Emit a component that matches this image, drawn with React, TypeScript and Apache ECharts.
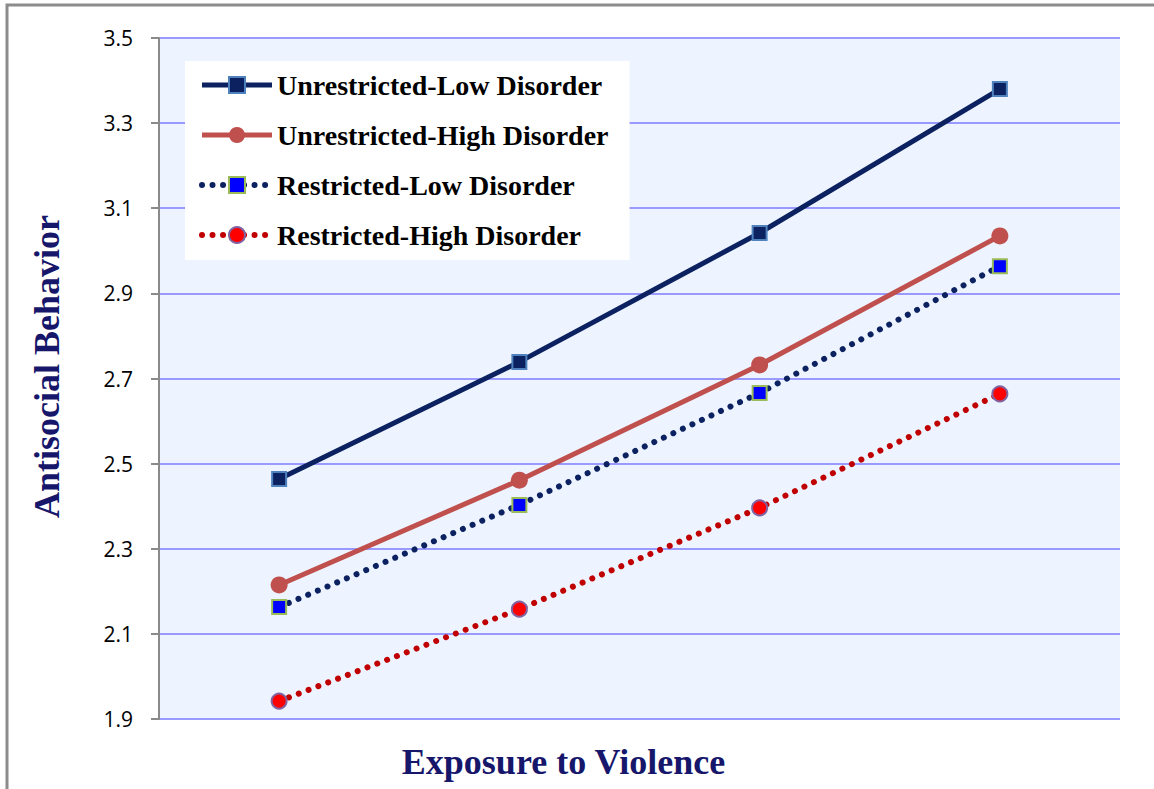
import React, { useEffect, useRef } from "react";
import * as echarts from "echarts";

// Exposure levels along the x axis (labels are not shown on the axis)
const exposureLevels = ["1", "2", "3", "4"];

const seriesNames = [
  "Unrestricted-Low Disorder",
  "Unrestricted-High Disorder",
  "Restricted-Low Disorder",
  "Restricted-High Disorder",
];

const unrestrictedLow = [2.464, 2.739, 3.042, 3.38];
const unrestrictedHigh = [2.215, 2.461, 2.732, 3.035];
const restrictedLow = [2.163, 2.403, 2.666, 2.964];
const restrictedHigh = [1.942, 2.158, 2.396, 2.664];

const yMin = 1.9;
const yMax = 3.5;
const yStep = 0.2;

const NAVY = "#0b2160";
const BRICK = "#c0504d";
const DARK_RED = "#c00000";
const TITLE_COLOR = "#16166b";
const SERIF = "'Liberation Serif', 'DejaVu Serif', serif";
const DOTTED = [0.01, 10.5];

export default function App() {
  const ref = useRef<HTMLDivElement>(null);

  useEffect(() => {
    if (!ref.current) return;
    const chart = echarts.init(ref.current, null, { renderer: "svg" });

    chart.setOption({
      animation: false,
      backgroundColor: "#ffffff",
      graphic: [
        {
          type: "rect",
          z: -10,
          silent: true,
          shape: { x: 7, y: 5, width: 1170, height: 820 },
          style: { fill: "none", stroke: "#8c8c8c", lineWidth: 3 },
        },
      ],
      grid: {
        left: 159,
        right: 34,
        top: 38,
        bottom: 70,
        outerBoundsMode: "none",
        containLabel: false,
        show: true,
        backgroundColor: "#edf4ff",
        borderWidth: 0,
      },
      legend: {
        orient: "vertical",
        left: 185,
        top: 61,
        backgroundColor: "#ffffff",
        padding: [10, 21, 11, 14],
        itemWidth: 70,
        itemHeight: 20,
        itemGap: 22,
        data: [
          { name: seriesNames[0], lineStyle: { width: 5 } },
          { name: seriesNames[1], lineStyle: { width: 5 } },
          { name: seriesNames[2], lineStyle: { width: 6, type: DOTTED, cap: "round" } },
          { name: seriesNames[3], lineStyle: { width: 6, type: DOTTED, cap: "round" } },
        ],
        textStyle: {
          fontFamily: SERIF,
          fontWeight: "bold",
          fontSize: 28,
          lineHeight: 24,
          color: "#000000",
        },
      },
      xAxis: {
        type: "category",
        data: exposureLevels,
        boundaryGap: true,
        axisLine: { show: false },
        axisTick: { show: false },
        axisLabel: { show: false },
        splitLine: { show: false },
        name: "Exposure to Violence",
        nameLocation: "middle",
        nameGap: 25,
        nameTextStyle: {
          fontFamily: SERIF,
          fontWeight: "bold",
          fontSize: 36,
          color: TITLE_COLOR,
          padding: [0, 152, 0, 0],
        },
      },
      yAxis: {
        type: "value",
        min: yMin,
        max: yMax,
        interval: yStep,
        axisLine: { show: true, lineStyle: { color: "#8a8a8a", width: 2 } },
        axisTick: {
          show: true,
          inside: false,
          length: 8,
          lineStyle: { color: "#8a8a8a", width: 2 },
        },
        axisLabel: {
          margin: 26,
          fontFamily: "'Open Sans', 'Noto Sans', sans-serif",
          fontSize: 21,
          color: "#000000",
          formatter: (v: number) => v.toFixed(1),
        },
        splitLine: { show: true, lineStyle: { color: "#9999ff", width: 2 } },
        name: "Antisocial Behavior",
        nameLocation: "middle",
        nameGap: 94,
        nameTextStyle: {
          fontFamily: SERIF,
          fontWeight: "bold",
          fontSize: 36,
          color: TITLE_COLOR,
          padding: [0, 0, 0, 24],
        },
      },
      series: [
        {
          name: seriesNames[0],
          type: "line",
          data: unrestrictedLow,
          symbol: "rect",
          symbolSize: 14,
          lineStyle: { color: NAVY, width: 5 },
          itemStyle: { color: NAVY, borderColor: "#4f81bd", borderWidth: 2 },
          z: 5,
        },
        {
          name: seriesNames[1],
          type: "line",
          data: unrestrictedHigh,
          symbol: "circle",
          symbolSize: 17,
          lineStyle: { color: BRICK, width: 5 },
          itemStyle: { color: BRICK, borderColor: BRICK, borderWidth: 0 },
          z: 4,
        },
        {
          name: seriesNames[2],
          type: "line",
          data: restrictedLow,
          symbol: "rect",
          symbolSize: 14,
          lineStyle: { color: NAVY, width: 6, type: DOTTED, cap: "round" },
          itemStyle: { color: "#0000ff", borderColor: "#9bbb59", borderWidth: 2 },
          z: 3,
        },
        {
          name: seriesNames[3],
          type: "line",
          data: restrictedHigh,
          symbol: "circle",
          symbolSize: 15,
          lineStyle: { color: DARK_RED, width: 6, type: DOTTED, cap: "round" },
          itemStyle: { color: "#ff0000", borderColor: "#8064a2", borderWidth: 2 },
          z: 2,
        },
      ],
    });

    return () => chart.dispose();
  }, []);

  return (
    <div
      ref={ref}
      style={{ position: "absolute", left: 0, top: 0, width: 1154, height: 789 }}
    />
  );
}
